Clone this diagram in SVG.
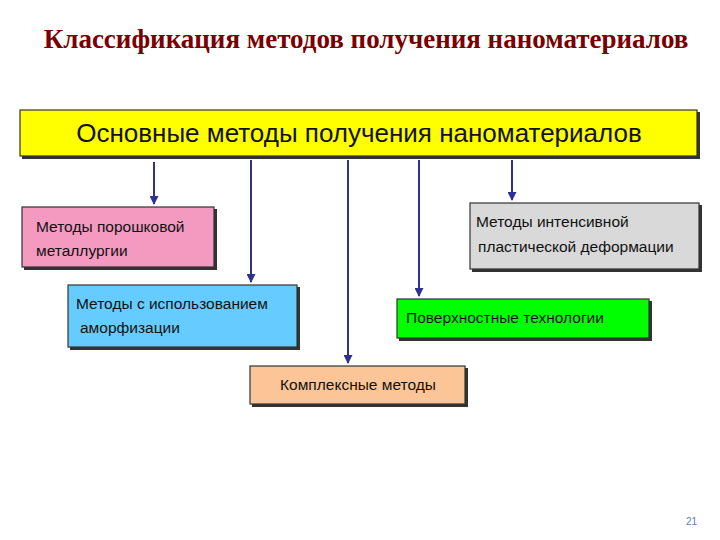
<svg xmlns="http://www.w3.org/2000/svg" width="720" height="540" viewBox="0 0 720 540">
<defs>
<marker id="ah" viewBox="0 0 10 10" refX="9" refY="5" markerWidth="14" markerHeight="9" orient="auto" markerUnits="userSpaceOnUse"><path d="M0,0 L10,5 L0,10 z" fill="#2e3192"/></marker>
</defs>
<style>
.sh{fill:#333}
.b{stroke:#333;stroke-width:1.2}
.t{font-family:"Liberation Sans",Arial,sans-serif;font-size:15.5px;fill:#111}
.c{stroke:#2e3192;stroke-width:2;fill:none}
</style>
<rect width="720" height="540" fill="#fff"/>
<text x="366" y="48" text-anchor="middle" font-family="Liberation Serif,serif" font-weight="bold" font-size="27" fill="#7a0000">Классификация методов получения наноматериалов</text>
<g id="main"><rect x="22" y="112" width="678" height="47" class="sh"/><rect x="20" y="110" width="677" height="46" fill="#ffff00" class="b"/><text x="359" y="142" text-anchor="middle" class="t" style="font-size:26px">Основные методы получения наноматериалов</text></g>
<g id="powder"><rect x="24" y="209" width="193" height="61" class="sh"/><rect x="22" y="207" width="192" height="60" fill="#f49ac1" class="b"/><text x="36" y="232" class="t">Методы порошковой</text><text x="36" y="256" class="t">металлургии</text></g>
<g id="amorph"><rect x="70" y="287" width="230" height="63" class="sh"/><rect x="68" y="285" width="229" height="62" fill="#66ccff" class="b"/><text x="76" y="309" class="t">Методы с использованием</text><text x="80" y="333" class="t">аморфизации</text></g>
<g id="complex"><rect x="252" y="368" width="216" height="39" class="sh"/><rect x="250" y="366" width="215" height="38" fill="#fbc597" class="b"/><text x="358" y="390" text-anchor="middle" class="t">Комплексные методы</text></g>
<g id="surface"><rect x="399" y="301" width="253" height="40" class="sh"/><rect x="397" y="299" width="252" height="39" fill="#00ff00" class="b"/><text x="406" y="323" class="t">Поверхностные технологии</text></g>
<g id="plastic"><rect x="472" y="205" width="230" height="67" class="sh"/><rect x="470" y="203" width="229" height="66" fill="#d9d9d9" class="b"/><text x="476" y="227" class="t">Методы интенсивной</text><text x="478" y="252" class="t">пластической деформации</text></g>
<g id="connectors">
<line x1="154" y1="162" x2="154" y2="204" class="c" marker-end="url(#ah)"/>
<line x1="251" y1="160" x2="251" y2="282" class="c" marker-end="url(#ah)"/>
<line x1="348" y1="160" x2="348" y2="363" class="c" marker-end="url(#ah)"/>
<line x1="419" y1="160" x2="419" y2="296" class="c" marker-end="url(#ah)"/>
<line x1="512" y1="160" x2="512" y2="200" class="c" marker-end="url(#ah)"/>
</g>
<text x="697" y="525" text-anchor="end" font-family="Liberation Sans,sans-serif" font-size="10" fill="#5a7fb0">21</text>
</svg>
